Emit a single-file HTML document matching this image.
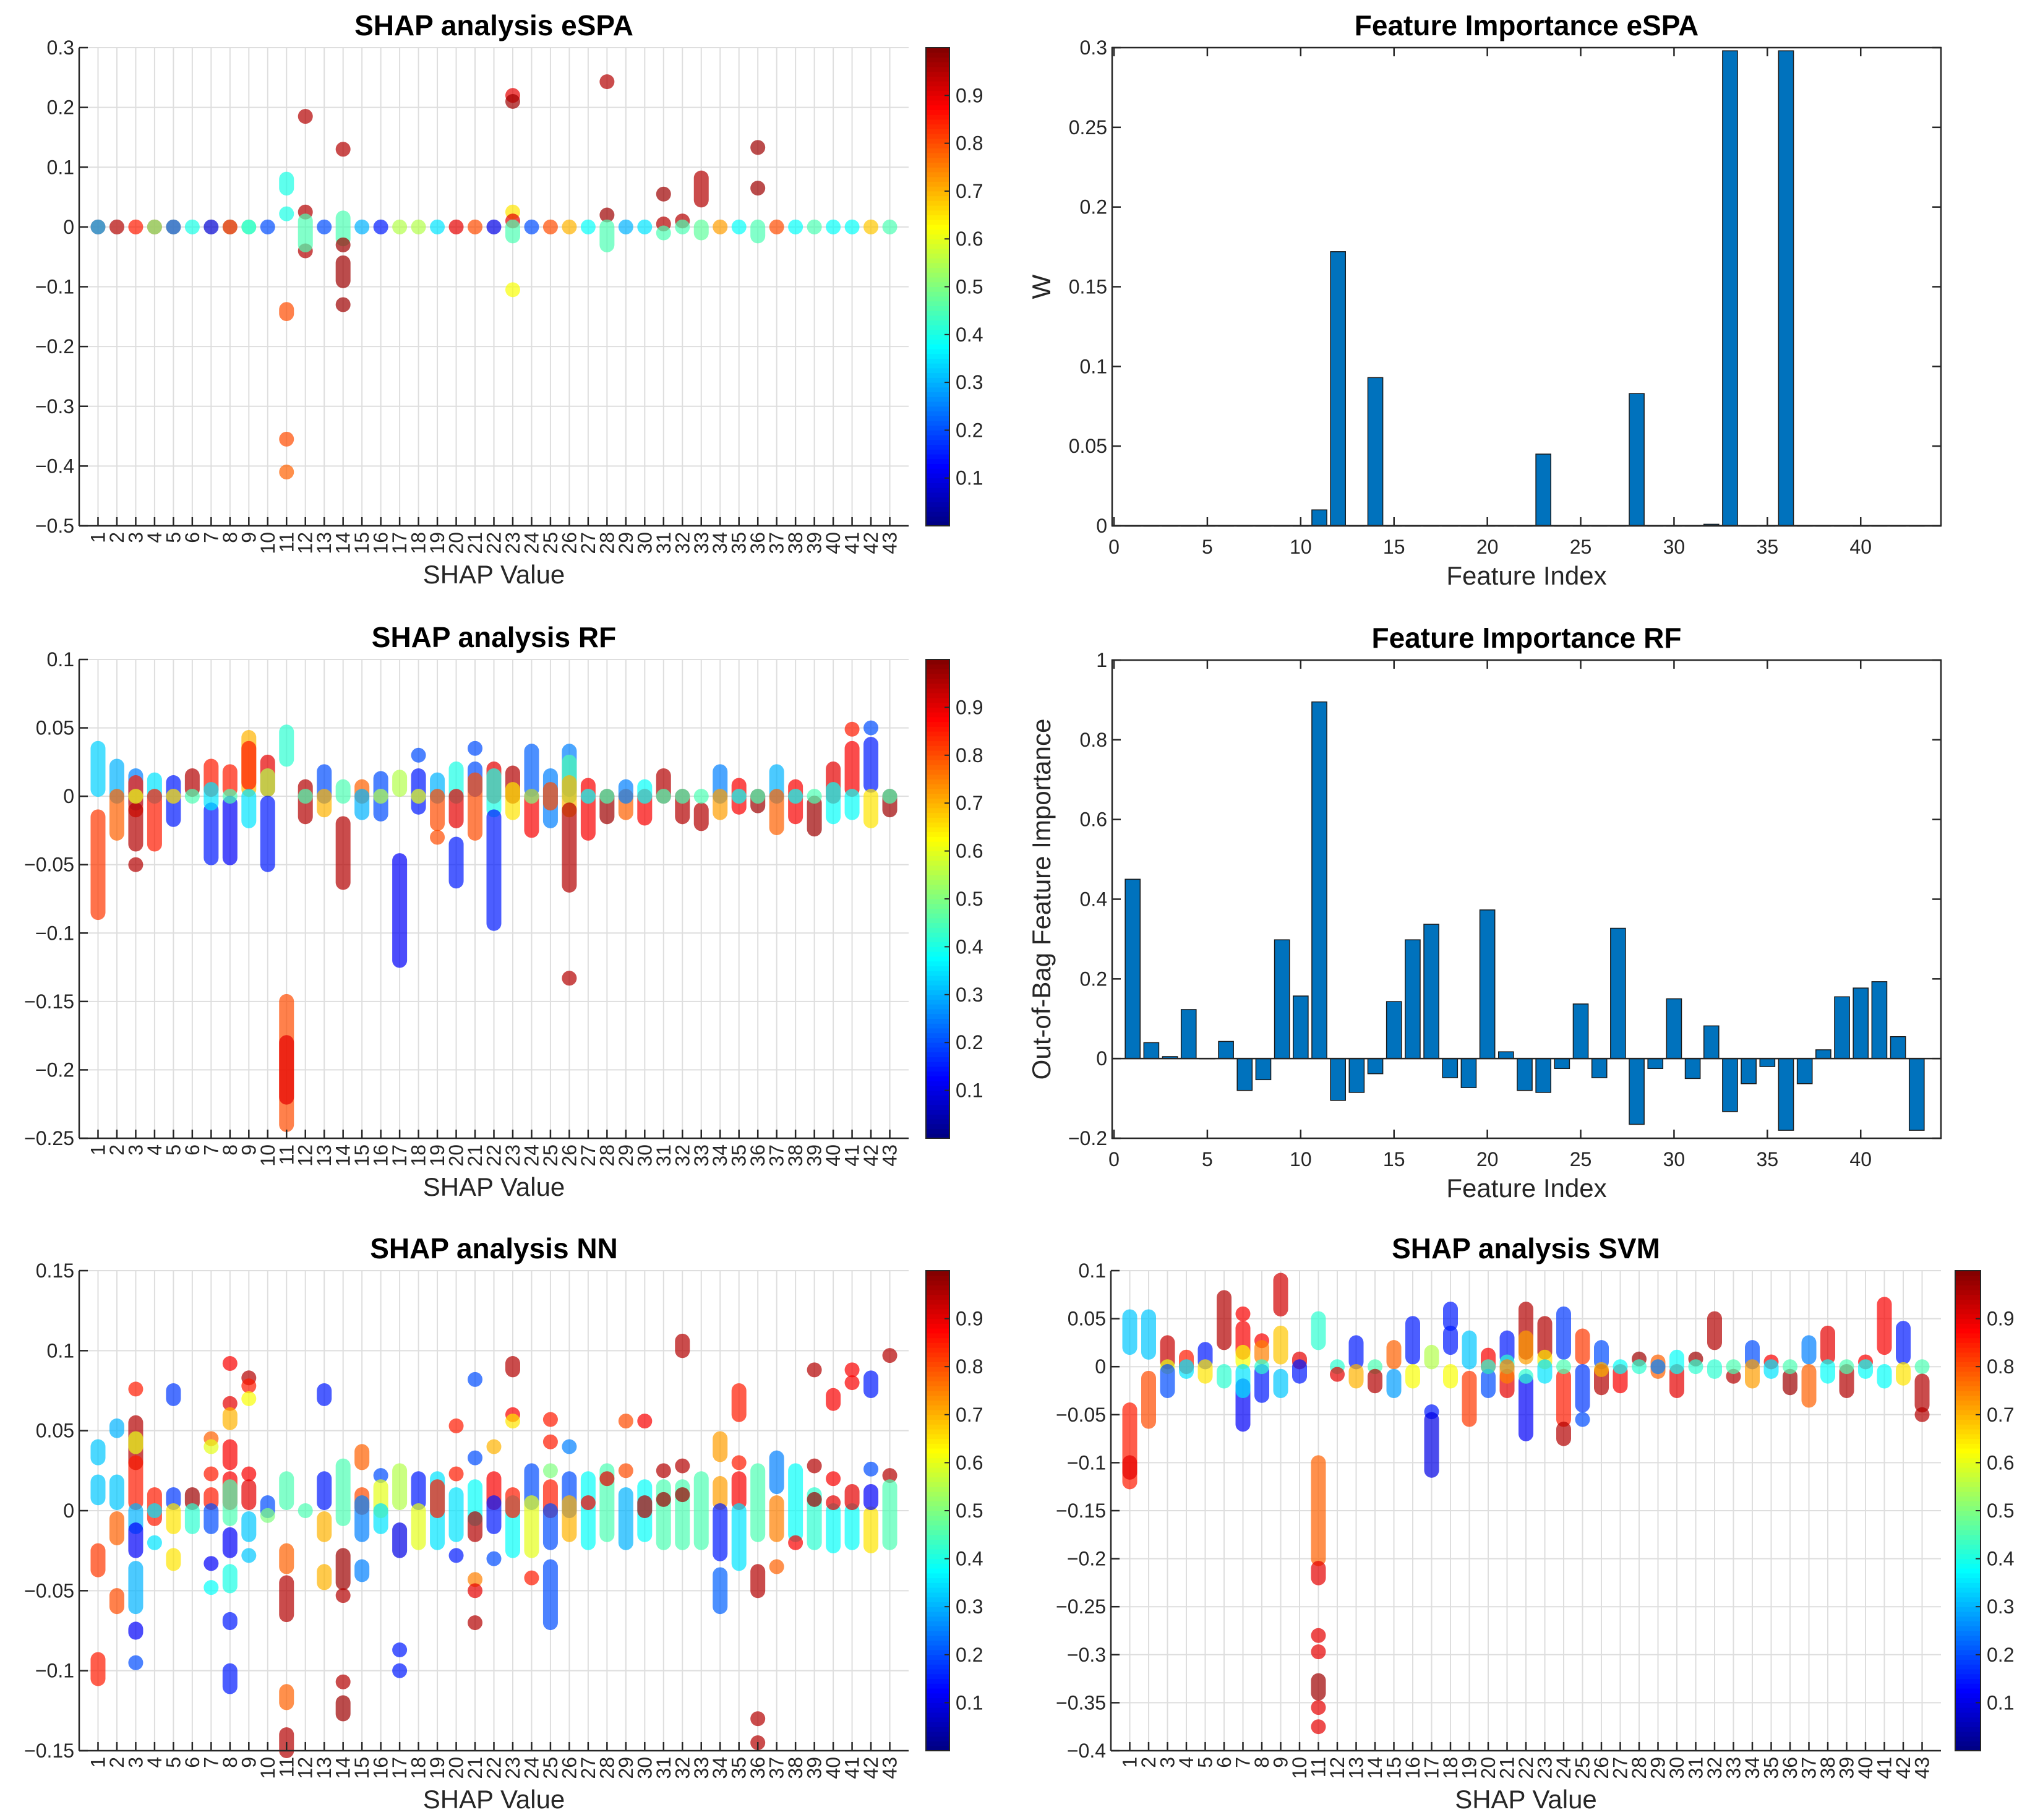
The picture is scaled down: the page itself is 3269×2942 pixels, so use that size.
<!DOCTYPE html>
<html><head><meta charset="utf-8"><style>
html,body{margin:0;padding:0;background:#fff;}
svg{display:block;font-family:"Liberation Sans",Arial,sans-serif;}
</style></head><body>
<svg id="fig" width="3269" height="2942" viewBox="0 0 3269 2942" xmlns="http://www.w3.org/2000/svg"></svg>
<script>
// ---------- DATA ----------
// SHAP scatter data: each entry "feature,low,high,colorValue"
const espaShap = ["1,0,0,0.85","1,0,0,0.3","2,0,0,0.3","2,0,0,0.85","3,0,0,0.85","4,0,0,0.85","4,0,0,0.5","5,0,0,0.62","5,0,0,0.2","6,0,0,0.4","7,0,0,0.08","8,0,0,0.5","8,0,0,0.85","9,0,0,0.6","9,0,0,0.38","10,0,0,0.2",
"11,0.065,0.08,0.4","11,0.022,0.022,0.4","11,-0.145,-0.138,0.8","11,-0.355,-0.355,0.8","11,-0.41,-0.41,0.78",
"12,0.185,0.185,0.95","12,0.025,0.025,0.95","12,-0.04,-0.04,0.95","12,-0.03,0.01,0.45","13,0,0,0.2",
"14,0.13,0.13,0.95","14,-0.02,0.015,0.45","14,-0.09,-0.06,0.97","14,-0.13,-0.13,0.97","14,-0.03,-0.03,0.97",
"15,0,0,0.3","16,0,0,0.15","17,0,0,0.55","18,0,0,0.55","19,0,0,0.35","20,0,0,0.9","21,0,0,0.8","22,0,0,0.1",
"23,0.22,0.22,0.9","23,0.21,0.21,0.97","23,0.025,0.025,0.65","23,0.01,0.01,0.9","23,-0.015,0,0.45","23,-0.105,-0.105,0.62",
"24,0,0,0.2","25,0,0,0.8","26,0,0,0.7","27,0,0,0.38","28,0.243,0.243,0.95","28,0.02,0.02,0.97","28,-0.03,0,0.45",
"29,0,0,0.3","30,0,0,0.35","31,0.055,0.055,0.97","31,0.005,0.005,0.95","31,-0.01,-0.01,0.45","32,0.01,0.01,0.95","32,0,0,0.45",
"33,0.045,0.082,0.95","33,-0.01,0,0.47","34,0,0,0.72","35,0,0,0.38","36,0.133,0.133,0.97","36,0.065,0.065,0.97","36,-0.015,0,0.45",
"37,0,0,0.8","38,0,0,0.38","39,0,0,0.45","40,0,0,0.38","41,0,0,0.38","42,0,0,0.68","43,0,0,0.45"];
const rfShap = ["1,0.005,0.035,0.33","1,-0.085,-0.015,0.82","2,0,0.022,0.3","2,-0.027,0,0.78",
"3,-0.005,0.015,0.25","3,-0.01,0.01,0.85","3,-0.035,-0.01,0.95","3,-0.05,-0.05,0.95","3,0,0,0.6",
"4,0,0.012,0.35","4,-0.035,0,0.85","5,-0.017,0.01,0.15","5,0,0,0.65","6,0.005,0.015,0.95","6,0,0,0.45",
"7,0.005,0.022,0.85","7,-0.045,-0.01,0.15","7,-0.005,0.005,0.35","8,0.005,0.018,0.85","8,-0.045,-0.005,0.12","8,0,0,0.45",
"9,0.005,0.043,0.7","9,0.01,0.035,0.85","9,-0.018,0,0.35","10,0.005,0.025,0.9","10,0.005,0.015,0.55","10,-0.05,-0.005,0.15",
"11,0.027,0.047,0.42","11,-0.24,-0.15,0.8","11,-0.22,-0.18,0.9","12,-0.015,0.007,0.95","12,0,0,0.45",
"13,0,0.018,0.2","13,-0.01,0,0.7","14,0,0.007,0.45","14,-0.063,-0.02,0.95","15,0,0.007,0.78","15,-0.012,0,0.3",
"16,-0.013,0.013,0.2","16,0,0,0.55","17,0.005,0.014,0.55","17,-0.12,-0.047,0.12","18,0.03,0.03,0.2","18,-0.008,0.015,0.15","18,0,0,0.6",
"19,0,0.012,0.3","19,-0.02,0,0.8","19,-0.03,-0.03,0.8","20,0,0.02,0.4","20,-0.018,0,0.9","20,-0.062,-0.035,0.15",
"21,0.035,0.035,0.2","21,0.005,0.02,0.2","21,-0.027,0.012,0.8","22,0,0.02,0.9","22,-0.01,0.015,0.4","22,-0.093,-0.015,0.15",
"23,0,0.017,0.95","23,-0.012,0.005,0.65","24,0.005,0.033,0.22","24,-0.025,0,0.88","24,0,0,0.5",
"25,-0.018,0.015,0.25","25,-0.005,0.005,0.8","26,0.005,0.033,0.25","26,0,0.025,0.45","26,-0.01,0.01,0.7","26,-0.065,-0.01,0.95","26,-0.133,-0.133,0.95",
"27,-0.027,0.008,0.88","27,0,0,0.38","28,-0.015,0,0.97","28,0,0,0.45","29,-0.012,0,0.78","29,0,0.007,0.25",
"30,-0.016,0,0.88","30,0,0.007,0.38","31,0,0.015,0.95","31,0,0,0.45","32,-0.015,0,0.95","32,0,0,0.45",
"33,-0.02,-0.01,0.95","33,0,0,0.45","34,0,0.018,0.25","34,-0.012,0,0.72","35,-0.008,0.008,0.88","35,0,0,0.38",
"36,-0.007,0,0.97","36,0,0,0.45","37,0,0.018,0.3","37,-0.023,0,0.78","38,-0.015,0.007,0.88","38,0,0,0.38",
"39,-0.024,-0.005,0.97","39,0,0,0.45","40,0,0.02,0.9","40,-0.015,0.005,0.38","41,0.049,0.049,0.85","41,0.005,0.035,0.88","41,-0.012,0,0.38",
"42,0.05,0.05,0.2","42,0.008,0.038,0.15","42,-0.018,0,0.65","43,-0.01,0,0.97","43,0,0,0.45"];
const nnShap = ["1,0.033,0.04,0.32","1,0.008,0.018,0.32","1,-0.037,-0.025,0.82","1,-0.105,-0.093,0.85",
"2,0.05,0.053,0.3","2,0.005,0.018,0.32","2,-0.017,-0.005,0.78","2,-0.06,-0.053,0.8",
"3,0.076,0.076,0.85","3,0.03,0.055,0.95","3,0.04,0.045,0.6","3,0.005,0.03,0.85","3,-0.01,0,0.3","3,-0.025,-0.012,0.12","3,-0.06,-0.036,0.3","3,-0.076,-0.074,0.12","3,-0.095,-0.095,0.2",
"4,-0.005,0.01,0.85","4,-0.02,-0.02,0.35","4,0,0,0.35","5,0.07,0.075,0.18","5,0.005,0.01,0.18","5,-0.01,0,0.65","5,-0.033,-0.028,0.65",
"6,0.005,0.01,0.97","6,-0.01,0,0.42","7,0.045,0.045,0.78","7,0.04,0.04,0.6","7,0.023,0.023,0.85","7,0.005,0.01,0.85","7,-0.01,0,0.2","7,-0.033,-0.033,0.12","7,-0.048,-0.048,0.38",
"8,0.092,0.092,0.88","8,0.067,0.067,0.9","8,0.055,0.06,0.7","8,0.03,0.04,0.88","8,0.005,0.02,0.88","8,-0.005,0.015,0.45","8,-0.025,-0.015,0.12","8,-0.047,-0.038,0.4","8,-0.07,-0.068,0.15","8,-0.11,-0.1,0.15",
"9,0.083,0.083,0.95","9,0.078,0.078,0.85","9,0.07,0.07,0.62","9,0.023,0.023,0.88","9,0.005,0.015,0.9","9,-0.015,-0.005,0.32","9,-0.028,-0.028,0.32",
"10,0,0.005,0.2","10,-0.003,-0.003,0.5","11,0.005,0.02,0.45","11,-0.035,-0.025,0.78","11,-0.065,-0.045,0.95","11,-0.12,-0.113,0.78","11,-0.15,-0.14,0.95",
"12,0,0,0.45","13,0.07,0.075,0.15","13,0.005,0.02,0.15","13,-0.015,-0.005,0.7","13,-0.045,-0.038,0.7",
"14,-0.005,0.028,0.45","14,-0.045,-0.028,0.97","14,-0.053,-0.053,0.95","14,-0.107,-0.107,0.95","14,-0.127,-0.12,0.97",
"15,0.03,0.037,0.78","15,0.002,0.01,0.8","15,-0.015,0.005,0.25","15,-0.04,-0.035,0.25","16,0.022,0.022,0.2","16,0,0.015,0.6","16,-0.01,0,0.35",
"17,0.005,0.025,0.55","17,-0.025,-0.012,0.1","17,-0.087,-0.087,0.15","17,-0.1,-0.1,0.15","18,0.005,0.02,0.15","18,-0.02,0,0.6",
"19,-0.02,0.02,0.35","19,0,0.015,0.85","20,0.053,0.053,0.85","20,0.023,0.023,0.85","20,-0.015,0.01,0.35","20,-0.028,-0.028,0.15",
"21,0.082,0.082,0.2","21,0.033,0.033,0.2","21,-0.005,0.015,0.38","21,-0.015,-0.005,0.95","21,-0.043,-0.043,0.75","21,-0.05,-0.05,0.9","21,-0.07,-0.07,0.95",
"22,0.04,0.04,0.7","22,0.005,0.02,0.88","22,-0.01,0.005,0.15","22,-0.03,-0.03,0.2",
"23,0.088,0.092,0.95","23,0.06,0.06,0.88","23,0.056,0.056,0.65","23,-0.025,0.005,0.38","23,0,0.01,0.85",
"24,0.005,0.025,0.2","24,-0.025,0.005,0.6","24,-0.042,-0.042,0.85",
"25,0.057,0.057,0.85","25,0.043,0.043,0.85","25,0.025,0.025,0.5","25,0,0.015,0.85","25,-0.07,-0.035,0.2","25,-0.02,0,0.2",
"26,0.04,0.04,0.25","26,0,0.02,0.2","26,-0.015,0.005,0.7","27,-0.02,0.02,0.38","27,0.005,0.005,0.88","28,-0.015,0.025,0.45","28,0.02,0.02,0.9",
"29,0.056,0.056,0.8","29,0.025,0.025,0.8","29,-0.02,0.01,0.3","30,0.056,0.056,0.88","30,-0.015,0.015,0.38","30,0,0.005,0.95",
"31,0.025,0.025,0.95","31,-0.02,0.015,0.45","31,0.007,0.007,0.97","32,0.1,0.106,0.95","32,0.028,0.028,0.95","32,-0.02,0.015,0.45","32,0.01,0.01,0.97",
"33,-0.02,0.02,0.45","34,0.035,0.045,0.72","34,0.005,0.017,0.72","34,-0.027,0,0.15","34,-0.06,-0.04,0.22",
"35,0.06,0.075,0.85","35,0.03,0.03,0.85","35,0.005,0.02,0.88","35,-0.033,0,0.35",
"36,-0.015,0.025,0.45","36,-0.05,-0.038,0.95","36,-0.13,-0.13,0.95","36,-0.145,-0.145,0.95",
"37,0.015,0.033,0.25","37,-0.015,0.005,0.75","37,-0.035,-0.035,0.78","38,-0.015,0.025,0.38","38,-0.02,-0.02,0.88",
"39,0.088,0.088,0.95","39,0.028,0.028,0.95","39,-0.02,0.01,0.42","39,0.007,0.007,0.97",
"40,0.067,0.072,0.88","40,0.02,0.02,0.88","40,-0.022,0,0.38","40,0.005,0.005,0.9",
"41,0.088,0.088,0.88","41,0.08,0.08,0.88","41,-0.02,0,0.38","41,0.005,0.012,0.9",
"42,0.075,0.083,0.15","42,0.026,0.026,0.2","42,-0.022,-0.002,0.65","42,0.005,0.012,0.12",
"43,0.097,0.097,0.95","43,0.022,0.022,0.95","43,-0.02,0.015,0.45"];
const svmShap = ["1,0.02,0.052,0.32","1,-0.12,-0.045,0.85","1,-0.11,-0.1,0.9","2,0.015,0.052,0.32","2,-0.057,-0.012,0.8",
"3,0.005,0.025,0.93","3,0,0,0.6","3,-0.025,-0.005,0.2","4,0,0.01,0.85","4,-0.005,0,0.35","5,0.005,0.018,0.15","5,-0.01,0,0.65",
"6,0.025,0.072,0.95","6,-0.015,-0.005,0.42","7,0.055,0.055,0.88","7,0.015,0.04,0.88","7,0.005,0.015,0.62","7,-0.06,-0.02,0.12","7,-0.025,-0.005,0.35",
"8,0.027,0.027,0.88","8,0.01,0.02,0.75","8,-0.03,-0.005,0.15","8,0,0,0.42","9,0.06,0.09,0.92","9,0.01,0.035,0.68","9,-0.025,-0.01,0.32",
"10,0.005,0.008,0.9","10,-0.01,0,0.15","11,0.025,0.05,0.42","11,-0.2,-0.1,0.78","11,-0.22,-0.21,0.9","11,-0.28,-0.28,0.9","11,-0.297,-0.297,0.9","11,-0.34,-0.327,0.97","11,-0.355,-0.355,0.9","11,-0.375,-0.375,0.9",
"12,0,0,0.42","12,-0.008,-0.008,0.9","13,0.005,0.025,0.15","13,-0.015,-0.005,0.7","14,0,0,0.45","14,-0.02,-0.01,0.95",
"15,0.005,0.02,0.78","15,-0.025,-0.01,0.28","16,0.01,0.045,0.15","16,-0.015,-0.005,0.62","17,0.005,0.015,0.55","17,-0.047,-0.047,0.15","17,-0.108,-0.055,0.1",
"18,0.045,0.06,0.15","18,0.02,0.035,0.15","18,-0.015,-0.005,0.62","19,0.005,0.03,0.32","19,-0.055,-0.012,0.82",
"20,0,0.012,0.88","20,-0.025,-0.01,0.2","20,0,0,0.42","21,0.01,0.03,0.15","21,-0.025,-0.01,0.9","21,0,0.005,0.42","21,-0.01,0,0.75",
"22,0.015,0.06,0.95","22,0.01,0.03,0.72","22,-0.07,-0.015,0.12","22,-0.01,-0.01,0.42","23,0.015,0.045,0.95","23,0.005,0.01,0.65","23,-0.01,0,0.35",
"24,0.015,0.055,0.18","24,-0.055,-0.01,0.85","24,-0.075,-0.065,0.95","24,0,0,0.45","25,0.01,0.032,0.82","25,-0.04,-0.005,0.18","25,-0.055,-0.055,0.2",
"26,0.005,0.02,0.2","26,-0.022,-0.005,0.95","26,-0.003,-0.003,0.7","27,-0.02,-0.005,0.88","27,0,0,0.38","28,0.008,0.008,0.97","28,0,0,0.42",
"29,-0.005,0.005,0.78","29,0,0,0.25","30,-0.025,-0.005,0.9","30,0,0.01,0.38","31,0.008,0.008,0.97","31,0,0,0.42",
"32,0.025,0.05,0.95","32,-0.005,0,0.42","33,-0.01,-0.01,0.95","33,0,0,0.45","34,0.005,0.02,0.2","34,-0.015,0,0.72",
"35,0.005,0.005,0.88","35,-0.005,0,0.35","36,-0.022,-0.01,0.97","36,0,0,0.45","37,0.01,0.025,0.25","37,-0.035,-0.005,0.78",
"38,0.01,0.035,0.9","38,-0.01,0,0.38","39,-0.025,-0.005,0.95","39,0,0,0.45","40,0.005,0.005,0.88","40,-0.005,0,0.38",
"41,0.02,0.065,0.88","41,-0.015,-0.005,0.38","42,0.01,0.04,0.15","42,-0.012,-0.003,0.65","43,0,0,0.45","43,-0.04,-0.015,0.95","43,-0.05,-0.05,0.95"];
// Feature importance values
const features = Array.from({length:43},(_,i)=>i+1);
const espaW = [0,0,0,0,0,0,0,0,0,0,0.01,0.172,0,0.093,0,0,0,0,0,0,0,0,0.045,0,0,0,0,0.083,0,0,0,0.001,0.298,0,0,0.298,0,0,0,0,0,0,0];
const rfOob = [0.45,0.04,0.005,0.123,0,0.043,-0.08,-0.053,0.298,0.157,0.895,-0.105,-0.085,-0.038,0.143,0.298,0.337,-0.048,-0.073,0.373,0.017,-0.08,-0.085,-0.025,0.137,-0.048,0.327,-0.165,-0.025,0.15,-0.05,0.082,-0.133,-0.063,-0.02,-0.18,-0.063,0.022,0.155,0.177,0.193,0.055,-0.18];
const fiXTicks = [0,5,10,15,20,25,30,35,40];
const espaYTicks = [0,0.05,0.1,0.15,0.2,0.25,0.3];
const rfYTicks = [-0.2,0,0.2,0.4,0.6,0.8,1];
const cbTicks = [0.1,0.2,0.3,0.4,0.5,0.6,0.7,0.8,0.9];

// ---------- HELPERS ----------
const NS="http://www.w3.org/2000/svg";
const svg=document.getElementById('fig');
function mk(tag,attrs,parent){const e=document.createElementNS(NS,tag);for(const k in attrs)e.setAttribute(k,attrs[k]);(parent||svg).appendChild(e);return e;}
function jet(v){v=Math.max(0,Math.min(1,v));
 const r=Math.max(0,Math.min(1,1.5-Math.abs(4*v-3))),g=Math.max(0,Math.min(1,1.5-Math.abs(4*v-2))),b=Math.max(0,Math.min(1,1.5-Math.abs(4*v-1)));
 return `rgb(${Math.round(r*255)},${Math.round(g*255)},${Math.round(b*255)})`;}
function fmt(v){let s=(Math.round(v*1000)/1000).toString();return s.replace('-','\u2212');}
function ticksRange(a,b,s){const t=[];for(let v=a;v<=b+1e-9;v+=s)t.push(Math.round(v*1000)/1000);return t;}
function text(x,y,str,size,opts,parent){const t=mk('text',Object.assign({x:x,y:y,'font-size':size,fill:'#262626'},opts||{}),parent);t.textContent=str;return t;}

function shapPanel(name,title,data,box,ylim,ystep,cb){
 const g=mk('g',{});
 
 
 const [x0,x1,y0,y1]=box;
 const sx=v=>x0+(v-0)/(44-0)*(x1-x0);
 const sy=v=>y1-(v-ylim[0])/(ylim[1]-ylim[0])*(y1-y0);
 const grid=mk('g',{stroke:'#dedede','stroke-width':2},g);
 
 
 for(const f of features){mk('line',{x1:sx(f),x2:sx(f),y1:y0,y2:y1},grid);}
 const yt=ticksRange(ylim[0],ylim[1],ystep);
 for(const v of yt){mk('line',{x1:x0,x2:x1,y1:sy(v),y2:sy(v)},grid);}
 const pts=mk('g',{'stroke-linecap':'round','stroke-width':24,'stroke-opacity':0.7},g);
 
 
 for(const d of data){const [f,lo,hi,c]=d.split(',').map(Number);
  const l=mk('line',{x1:sx(f),x2:sx(f),y1:sy(lo),y2:sy(hi)+0.01,stroke:jet(c)},pts);
  
  }
 const ax=mk('g',{stroke:'#262626','stroke-width':2.5},g);
 
 
 mk('line',{x1:x0,x2:x0,y1:y0,y2:y1},ax);mk('line',{x1:x0,x2:x1,y1:y1,y2:y1},ax);
 for(const f of features){mk('line',{x1:sx(f),x2:sx(f),y1:y1,y2:y1-14},ax);}
 for(const v of yt){mk('line',{x1:x0,x2:x0+14,y1:sy(v),y2:sy(v)},ax);}
 for(const v of yt){const t=text(x0-8,sy(v)+11,fmt(v),32,{'text-anchor':'end'},g);
  
  }
 for(const f of features){const t=text(0,0,String(f),32,{'text-anchor':'end',transform:`translate(${sx(f)+11},${y1+10}) rotate(-90)`},g);
  
  }
 const tt=text((x0+x1)/2,y0-20,title,46,{'text-anchor':'middle','font-weight':'bold',fill:'#000'},g);
 
 
 const xl=text((x0+x1)/2,y1+93,'SHAP Value',42,{'text-anchor':'middle'},g);
 
 
 const cg=mk('g',{},g);
 
 
 const [cx0,cx1]=cb;const n=100;
 for(let i=0;i<n;i++){const v=(i+0.5)/n;const h=(y1-y0)/n;
  mk('rect',{x:cx0,y:y1-(i+1)*h-0.5,width:cx1-cx0,height:h+1,fill:jet(v)},cg);}
 mk('rect',{x:cx0,y:y0,width:cx1-cx0,height:y1-y0,fill:'none',stroke:'#262626','stroke-width':2},cg);
 for(const v of cbTicks){const y=y1-v*(y1-y0);
  mk('line',{x1:cx1,x2:cx1-8,y1:y,y2:y,stroke:'#262626','stroke-width':2},cg);
  const t=text(cx1+10,y+11,String(v),32,{},cg);
  
  }
}

function barPanel(name,title,vals,box,ylim,yticks,ylabel){
 const g=mk('g',{});
 
 
 const [x0,x1,y0,y1]=box;const xl=[-0.1,44.3];
 const sx=v=>x0+(v-xl[0])/(xl[1]-xl[0])*(x1-x0);
 const sy=v=>y1-(v-ylim[0])/(ylim[1]-ylim[0])*(y1-y0);
 const bars=mk('g',{fill:'#0072BD',stroke:'#1a1a1a','stroke-width':1.5},g);
 
 
 const w=0.8;
 features.forEach((f,i)=>{const v=vals[i];const ya=sy(Math.max(v,0)),yb=sy(Math.min(v,0));
  const r=mk('rect',{x:sx(f-w/2),y:ya,width:sx(f+w/2)-sx(f-w/2),height:Math.max(yb-ya,0.5)},bars);
  
  });
 mk('line',{x1:x0,x2:x1,y1:sy(0),y2:sy(0),stroke:'#262626','stroke-width':2.5},g);
 const ax=mk('g',{stroke:'#262626','stroke-width':2.5},g);
 
 
 mk('rect',{x:x0,y:y0,width:x1-x0,height:y1-y0,fill:'none'},ax);
 for(const v of fiXTicks){mk('line',{x1:sx(v),x2:sx(v),y1:y1,y2:y1-14},ax);mk('line',{x1:sx(v),x2:sx(v),y1:y0,y2:y0+14},ax);
  const t=text(sx(v),y1+45,String(v),32,{'text-anchor':'middle'},g);
  
  }
 for(const v of yticks){mk('line',{x1:x0,x2:x0+14,y1:sy(v),y2:sy(v)},ax);mk('line',{x1:x1,x2:x1-14,y1:sy(v),y2:sy(v)},ax);
  const t=text(x0-8,sy(v)+11,fmt(v),32,{'text-anchor':'end'},g);
  
  }
 const tt=text((x0+x1)/2,y0-20,title,46,{'text-anchor':'middle','font-weight':'bold',fill:'#000'},g);
 
 
 const xt=text((x0+x1)/2,y1+95,'Feature Index',42,{'text-anchor':'middle'},g);
 
 
 const yt=text(0,0,ylabel,42,{'text-anchor':'middle',transform:`translate(${x0-100},${(y0+y1)/2}) rotate(-90)`},g);
 
 
}

shapPanel('shap-espa-chart','SHAP analysis eSPA',espaShap,[128,1469,77,850],[-0.5,0.3],0.1,[1497,1535]);
barPanel('fi-espa-chart','Feature Importance eSPA',espaW,[1798,3138,77,850],[0,0.3],espaYTicks,'W');
shapPanel('shap-rf-chart','SHAP analysis RF',rfShap,[128,1469,1066,1840],[-0.25,0.1],0.05,[1497,1535]);
barPanel('fi-rf-chart','Feature Importance RF',rfOob,[1798,3138,1067,1840],[-0.2,1],rfYTicks,'Out-of-Bag Feature Importance');
shapPanel('shap-nn-chart','SHAP analysis NN',nnShap,[128,1469,2054,2830],[-0.15,0.15],0.05,[1497,1535]);
shapPanel('shap-svm-chart','SHAP analysis SVM',svmShap,[1796,3138,2054,2830],[-0.4,0.1],0.05,[3161,3202]);
</script>
</body></html>
